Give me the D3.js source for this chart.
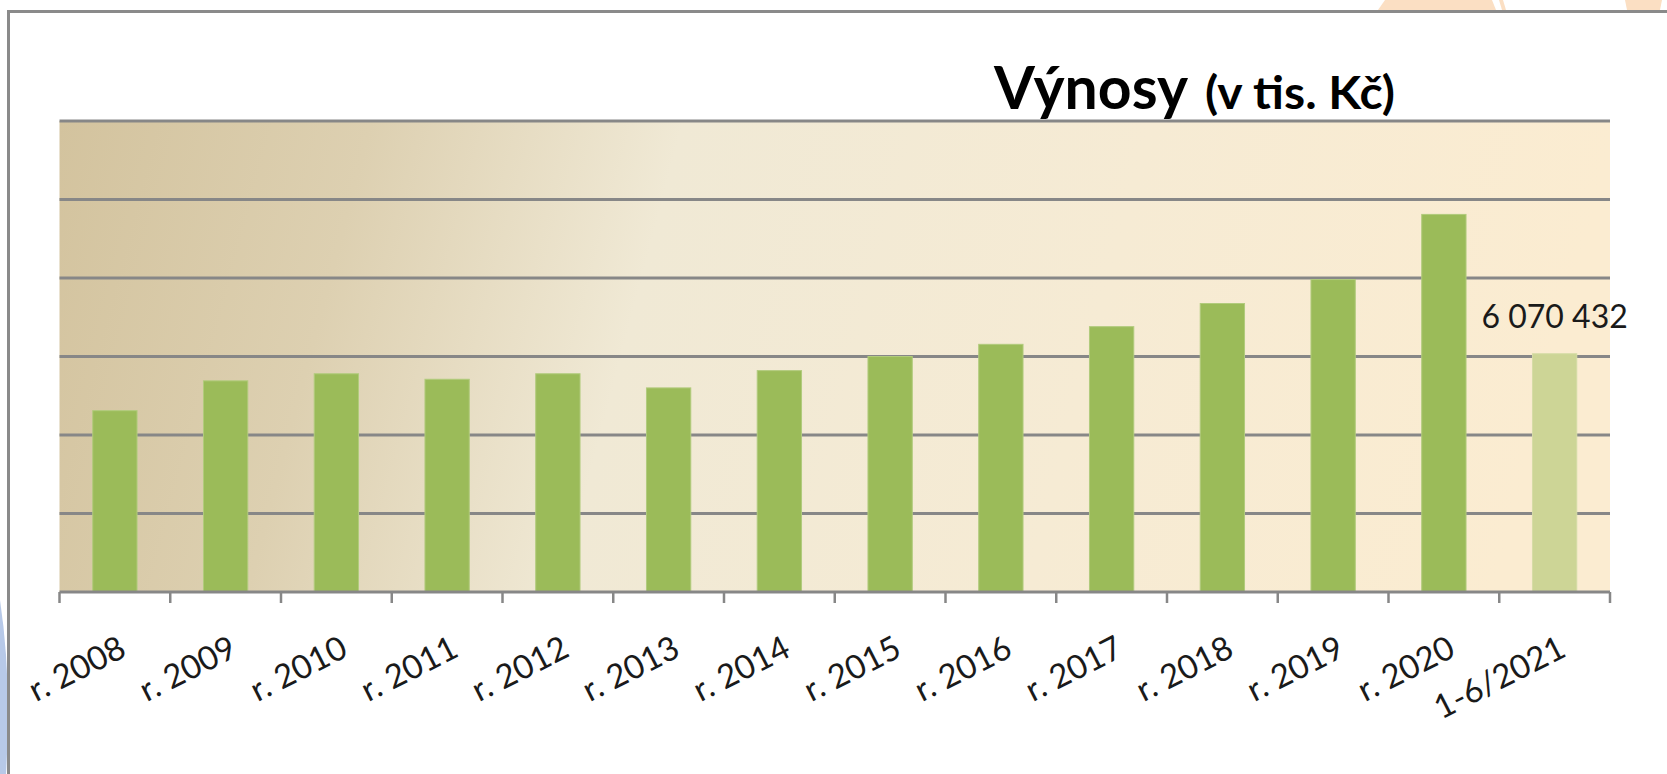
<!DOCTYPE html>
<html>
<head>
<meta charset="utf-8">
<script src="https://cdn.jsdelivr.net/npm/d3@7"></script>
<style>
  html, body { margin: 0; padding: 0; background: #ffffff; }
  svg { display: block; }
</style>
</head>
<body>
<svg id="chart" width="1667" height="774"></svg>
<script>
// ---- data (values in tis. Kč) ----
const categories = ["r. 2008","r. 2009","r. 2010","r. 2011","r. 2012","r. 2013","r. 2014",
                    "r. 2015","r. 2016","r. 2017","r. 2018","r. 2019","r. 2020","1-6/2021"];
const values = [4620000, 5380000, 5560000, 5420000, 5560000, 5200000, 5640000,
                6000000, 6310000, 6760000, 7350000, 7960000, 9620000, 6070432];
const highlighted = ["1-6/2021"];
const gridTicks = [0, 2000000, 4000000, 6000000, 8000000, 10000000, 12000000];
const labelledCategory = "1-6/2021";
const titleMain = "Výnosy";
const titleSub = "(v tis. Kč)";

const svg = d3.select("#chart");
const W = 1667, H = 774;
const plot = { left: 59.5, right: 1610, top: 121, bottom: 592 };

const defs = svg.append("defs");
const grad = defs.append("linearGradient").attr("id", "bg")
  .attr("x1", "0").attr("y1", "0").attr("x2", "1").attr("y2", "0.08");
grad.append("stop").attr("offset", "0").attr("stop-color", "#d3c39e");
grad.append("stop").attr("offset", "0.2").attr("stop-color", "#ddd0b1");
grad.append("stop").attr("offset", "0.4").attr("stop-color", "#f0e9d5");
grad.append("stop").attr("offset", "0.7").attr("stop-color", "#f6ebd4");
grad.append("stop").attr("offset", "1").attr("stop-color", "#fbecd1");

// slide decorations outside the frame
svg.append("path").attr("d", "M1385,0 L1492,0 L1496,10 L1378,10 Z").attr("fill", "#fbdfc3");
svg.append("path").attr("d", "M1499,0 L1503,0 L1506,10 L1502,10 Z").attr("fill", "#fbdfc3");
svg.append("path").attr("d", "M1625,0 L1662,0 L1660,10 L1627,10 Z").attr("fill", "#fbdfc3");
svg.append("path").attr("d", "M0,600 Q12,680 6,774 L0,774 Z").attr("fill", "#b7c9e8");

// frame
svg.append("path").attr("d", `M8.5,${H + 5} L8.5,11.5 L${W + 5},11.5`)
  .attr("fill", "none").attr("stroke", "#8a8a8a").attr("stroke-width", 3);

// scales
const x = d3.scaleBand().domain(categories).range([plot.left, plot.right])
  .paddingInner(0.6).paddingOuter(0.3);
const y = d3.scaleLinear().domain([0, 12000000]).range([plot.bottom, plot.top]);

// plot background
svg.append("rect").attr("x", plot.left).attr("y", plot.top)
  .attr("width", plot.right - plot.left).attr("height", plot.bottom - plot.top)
  .attr("fill", "url(#bg)");

// gridlines
svg.append("g").selectAll("line").data(gridTicks.filter(d => d > 0)).join("line")
  .attr("x1", plot.left).attr("x2", plot.right)
  .attr("y1", d => y(d)).attr("y2", d => y(d))
  .attr("stroke", "#878787").attr("stroke-width", 3);

// bars
svg.append("g").selectAll("rect").data(categories).join("rect")
  .attr("x", d => x(d)).attr("width", x.bandwidth())
  .attr("y", (d, i) => y(values[i]))
  .attr("height", (d, i) => y(0) - y(values[i]))
  .attr("fill", d => highlighted.includes(d) ? "#cdd596" : "#9bbb59")
  .attr("stroke", d => highlighted.includes(d) ? "#d5dca6" : "#b1cb7c")
  .attr("stroke-width", 1);

// x axis
const xAxis = svg.append("g").attr("transform", `translate(0,${plot.bottom})`);
xAxis.append("line").attr("x1", plot.left).attr("x2", plot.right)
  .attr("stroke", "#878787").attr("stroke-width", 3);
const tickPos = d3.range(categories.length + 1).map(i => plot.left + i * x.step());
xAxis.selectAll("line.tick").data(tickPos).join("line").attr("class", "tick")
  .attr("x1", d => d).attr("x2", d => d).attr("y1", 0).attr("y2", 11)
  .attr("stroke", "#878787").attr("stroke-width", 2.5);

xAxis.selectAll("text").data(categories).join("text")
  .attr("transform", d => `translate(${x(d) + x.bandwidth() / 2 + 8},${53}) rotate(-27)`)
  .attr("text-anchor", "end").attr("dy", "0.35em")
  .attr("font-family", "Lato, 'Open Sans', sans-serif")
  .attr("font-size", 33).attr("fill", "#1a1a1a")
  .text(d => d);

// data label
const li = categories.indexOf(labelledCategory);
svg.append("text")
  .attr("x", x(labelledCategory) + x.bandwidth() / 2)
  .attr("y", y(values[li]) - 26)
  .attr("text-anchor", "middle")
  .attr("font-family", "Lato, 'Open Sans', sans-serif")
  .attr("font-size", 32).attr("fill", "#1a1a1a")
  .text(d3.format(",")(values[li]).replace(/,/g, " "));

// title
svg.append("text").attr("x", 994).attr("y", 109)
  .attr("font-family", "Lato, sans-serif").attr("font-weight", "bold")
  .attr("font-size", 60).attr("fill", "#000")
  .attr("textLength", 194).attr("lengthAdjust", "spacingAndGlyphs")
  .text(titleMain);
svg.append("text").attr("x", 1205).attr("y", 109)
  .attr("font-family", "Lato, sans-serif").attr("font-weight", "bold")
  .attr("font-size", 46).attr("fill", "#000")
  .attr("textLength", 190).attr("lengthAdjust", "spacingAndGlyphs")
  .text(titleSub);
</script>
</body>
</html>
